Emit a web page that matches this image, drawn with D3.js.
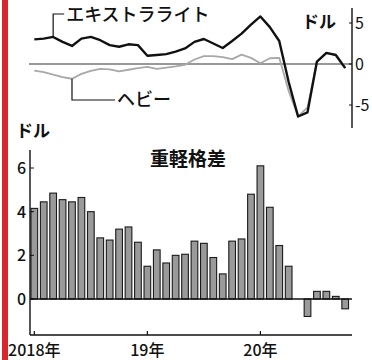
<!DOCTYPE html>
<html>
<head>
<meta charset="utf-8">
<script src="https://cdn.jsdelivr.net/npm/d3@7"></script>
<style>
  html, body { margin: 0; padding: 0; background: #fff; }
  svg { display: block; }
  text { font-family: "Noto Sans CJK JP", "Noto Sans", sans-serif; fill: #111; }
</style>
</head>
<body>
<svg id="chart" width="372" height="360"></svg>
<script>
// Monthly observations, Jan 2018 – Oct 2020
const months = [
  "2018-01","2018-02","2018-03","2018-04","2018-05","2018-06",
  "2018-07","2018-08","2018-09","2018-10","2018-11","2018-12",
  "2019-01","2019-02","2019-03","2019-04","2019-05","2019-06",
  "2019-07","2019-08","2019-09","2019-10","2019-11","2019-12",
  "2020-01","2020-02","2020-03","2020-04","2020-05","2020-06",
  "2020-07","2020-08","2020-09","2020-10"
];

// Extra Light premium (dollars)
const extraLight = [
  3.0, 3.1, 3.3, 2.7, 2.2, 3.1,
  3.3, 2.9, 2.3, 2.1, 2.4, 2.3,
  1.0, 1.1, 1.2, 1.5, 1.9, 2.7,
  3.05, 2.5, 1.95, 2.8, 3.7, 4.8,
  5.8, 4.5, 2.8, -2.2, -6.4, -5.9,
  0.3, 1.35, 1.1, -0.5
];

// Heavy premium (dollars)
const heavy = [
  -0.8, -1.0, -1.3, -1.6, -1.8, -1.2,
  -0.85, -0.6, -0.65, -0.9, -0.7, -0.5,
  -0.35, -0.6, -0.45, -0.3, -0.1, 0.55,
  0.95, 0.95, 0.85, 0.6, 1.15, 0.75,
  0.1, 0.7, 0.75, -3.3, -6.4, -5.3,
  0.25, 1.3, 1.15, -0.45
];

// Heavy–light spread (dollars)
const spread = [
  4.15, 4.45, 4.85, 4.55, 4.45, 4.65,
  4.0, 2.8, 2.7, 3.2, 3.3, 2.6,
  1.5, 2.25, 1.65, 2.0, 2.05, 2.65,
  2.55, 1.9, 1.15, 2.65, 2.75, 4.8,
  6.1, 4.2, 2.45, 1.5, 0, -0.8,
  0.35, 0.35, 0.12, -0.45
];

const yearTickMonths = ["2018-01", "2019-01", "2020-01"];
const yearTickLabels = ["2018年", "19年", "20年"];
const topTicks = [5, 0, -5];
const topTickLabels = ["5", "0", "-5"];
const bottomTicks = [0, 2, 4, 6];

const svg = d3.select("#chart");

// red edge strip
svg.append("rect").attr("x", 2).attr("y", 0).attr("width", 6).attr("height", 360)
  .attr("fill", "#d9262c");

// shared month scale
const x = d3.scaleBand().domain(months).range([29.6, 349.9]).paddingInner(0.29).paddingOuter(0.145);
const cx = m => x(m) + x.bandwidth() / 2;

// ---------- upper panel: premiums ----------
const yTop = d3.scaleLinear().domain([-5, 5]).range([105, 23]);

// zero line
svg.append("line")
  .attr("x1", 29).attr("x2", 352)
  .attr("y1", yTop(0)).attr("y2", yTop(0))
  .attr("stroke", "#333").attr("stroke-width", 1.1);

// right axis
const gTopAxis = svg.append("g").attr("transform", "translate(352,0)");
gTopAxis.append("line").attr("y1", 8).attr("y2", 128)
  .attr("stroke", "#111").attr("stroke-width", 1.4);
gTopAxis.selectAll("line.tk").data(topTicks).join("line").attr("class", "tk")
  .attr("x1", -3).attr("x2", 0)
  .attr("y1", d => yTop(d)).attr("y2", d => yTop(d))
  .attr("stroke", "#111").attr("stroke-width", 1);
gTopAxis.selectAll("text").data(topTicks).join("text")
  .attr("x", 3).attr("y", d => yTop(d) + 6)
  .attr("font-size", 16)
  .text((d, i) => topTickLabels[i]);

svg.append("text").attr("x", 302).attr("y", 28)
  .attr("font-size", 17).attr("font-weight", 700).text("ドル");

const line = d3.line().x((d, i) => cx(months[i])).y(d => yTop(d));

svg.append("path").datum(heavy)
  .attr("d", line).attr("fill", "none")
  .attr("stroke", "#a8a8a8").attr("stroke-width", 1.8)
  .attr("stroke-linejoin", "round");

svg.append("path").datum(extraLight)
  .attr("d", line).attr("fill", "none")
  .attr("stroke", "#111").attr("stroke-width", 2.4)
  .attr("stroke-linejoin", "round");

// series labels with leader lines
const elMonth = "2018-03";
const elX = cx(elMonth);
const elY = yTop(extraLight[months.indexOf(elMonth)]);
svg.append("path")
  .attr("d", `M${elX},${elY}V14H${elX + 11}`)
  .attr("fill", "none").attr("stroke", "#111").attr("stroke-width", 1.2);
svg.append("text").attr("x", elX + 13).attr("y", 21)
  .attr("font-size", 18).attr("font-weight", 500).text("エキストラライト");

const hvMonth = "2018-05";
const hvX = cx(hvMonth);
const hvY = yTop(heavy[months.indexOf(hvMonth)]);
svg.append("path")
  .attr("d", `M${hvX},${hvY}V100H${hvX + 43}`)
  .attr("fill", "none").attr("stroke", "#111").attr("stroke-width", 1.2);
svg.append("text").attr("x", hvX + 45).attr("y", 106)
  .attr("font-size", 18).attr("font-weight", 500).text("ヘビー");

// ---------- lower panel: spread bars ----------
const yBot = d3.scaleLinear().domain([0, 6]).range([299, 168]);

svg.append("text").attr("x", 16).attr("y", 137)
  .attr("font-size", 17).attr("font-weight", 700).text("ドル");

svg.append("text").attr("x", 188).attr("y", 166)
  .attr("text-anchor", "middle")
  .attr("font-size", 19).attr("font-weight", 700).text("重軽格差");

svg.append("g").selectAll("rect").data(spread).join("rect")
  .attr("x", (d, i) => x(months[i]))
  .attr("width", x.bandwidth())
  .attr("y", d => yBot(Math.max(0, d)))
  .attr("height", d => Math.abs(yBot(d) - yBot(0)))
  .attr("fill", "#9a9a9a").attr("stroke", "#1a1a1a").attr("stroke-width", 1.1);

// zero baseline
svg.append("line")
  .attr("x1", 30).attr("x2", 352)
  .attr("y1", yBot(0)).attr("y2", yBot(0))
  .attr("stroke", "#111").attr("stroke-width", 1.3);

// left axis
const gLeft = svg.append("g").attr("transform", "translate(30,0)");
gLeft.append("line").attr("y1", 150).attr("y2", 335)
  .attr("stroke", "#111").attr("stroke-width", 1.4);
gLeft.selectAll("line.tk").data(bottomTicks).join("line").attr("class", "tk")
  .attr("x1", 0).attr("x2", 4)
  .attr("y1", d => yBot(d)).attr("y2", d => yBot(d))
  .attr("stroke", "#111").attr("stroke-width", 1);
gLeft.selectAll("text").data(bottomTicks).join("text")
  .attr("x", -4).attr("y", d => yBot(d) + 6)
  .attr("text-anchor", "end")
  .attr("font-size", 16).attr("font-weight", 500)
  .text(d => d);

// bottom time axis
svg.append("line").attr("x1", 30).attr("x2", 352)
  .attr("y1", 335).attr("y2", 335)
  .attr("stroke", "#111").attr("stroke-width", 1.3);
svg.selectAll("line.yt").data(yearTickMonths).join("line").attr("class", "yt")
  .attr("x1", d => cx(d)).attr("x2", d => cx(d))
  .attr("y1", 335).attr("y2", 331)
  .attr("stroke", "#111").attr("stroke-width", 1.2);
svg.selectAll("text.yl").data(yearTickMonths).join("text").attr("class", "yl")
  .attr("x", d => cx(d)).attr("y", 356)
  .attr("text-anchor", "middle")
  .attr("font-size", 16).attr("font-weight", 500)
  .text((d, i) => yearTickLabels[i]);
</script>
</body>
</html>
